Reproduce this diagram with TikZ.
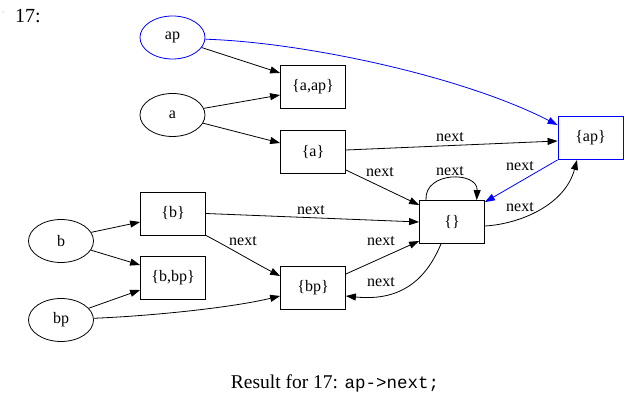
\documentclass[tikz,border=0pt]{standalone}
\usepackage{fontspec}
\setmainfont{Liberation Serif}
\setmonofont{Liberation Mono}
\usetikzlibrary{shapes.geometric,arrows.meta}
\begin{document}
\begin{tikzpicture}[x=1pt,y=-1pt,
  every node/.style={font=\fontsize{16}{19}\selectfont},
  ell/.style={draw,ellipse,line width=0.8pt,minimum width=65pt,minimum height=43pt,inner sep=0pt},
  box/.style={draw,rectangle,line width=0.8pt,minimum width=65pt,minimum height=43pt,inner sep=0pt},
  edge/.style={line width=0.8pt,-{Triangle[length=10pt,width=7pt]}},
  lab/.style={inner sep=0pt,font=\fontsize{16}{19}\selectfont},
  hl/.style={draw=blue}
]
\useasboundingbox (0,0) rectangle (635,403);
\fill[gray!70] (3,12) circle (0.7);
\node[anchor=west,inner sep=0pt,font=\fontsize{20}{24}\selectfont] (title) at (15,16) {17:};

\node[ell,hl] (ap) at (172.5,37.5) {ap};
\node[ell] (a) at (172.5,115) {a};
\node[ell] (b) at (61,241) {b};
\node[ell] (bp) at (61,320) {bp};

\node[box] (aap) at (313,86.5) {\{a,ap\}};
\node[box] (sa) at (313,152) {\{a\}};
\node[box,hl] (sap) at (590.5,138) {\{ap\}};
\node[box] (e) at (452,222) {\{\}};
\node[box] (sb) at (173,213.5) {\{b\}};
\node[box] (sbbp) at (173,278) {\{b,bp\}};
\node[box] (sbp) at (313,288) {\{bp\}};

\draw[edge] (ap.-19) -- ([yshift=13.5]aap.west);
\draw[edge] (a.12) -- ([yshift=-8.5]aap.west);
\draw[edge] (a.-15) -- ([yshift=9]sa.west);
\draw[edge,blue] (ap.-3) .. controls (300,42) and (460,75) .. ([yshift=13]sap.west);

\draw[edge] ([yshift=2]sa.east) -- ([yshift=-3]sap.west);
\node[lab] (l0) at (450,137) {next};
\draw[edge] ([yshift=-18]sa.east) -- ([yshift=17]e.west);
\node[lab] (l7) at (380,172) {next};
\draw[edge] ([xshift=-26]e.north) .. controls (424,171) and (478,171) .. ([xshift=24.7]e.north);
\node[lab] (loopl) at (450,171) {next};
\draw[edge,blue] (sap.south west) -- ([yshift=-2]e.north east);
\node[lab] (l1) at (520,166) {next};
\draw[edge] ([yshift=-4]e.east) .. controls (520,224) and (565,205) .. ([xshift=-13.5]sap.south);
\node[lab] (l2) at (520,207) {next};

\draw[edge] (sb.east) -- (e.west);
\node[lab] (l3) at (311,210) {next};
\draw[edge] (sb.south east) .. controls (228,247) and (255,263) .. ([yshift=12]sbp.west);
\node[lab] (l4) at (243,241) {next};
\draw[edge] ([yshift=14]sbp.east) -- ([yshift=-19]e.west);
\node[lab] (l5) at (381,241) {next};
\draw[edge] ([xshift=-11]e.south) .. controls (428,275) and (405,302) .. ([yshift=-8]sbp.east);
\node[lab] (l6) at (381,282) {next};

\draw[edge] (b.16) -- ([yshift=-8.5]sb.west);
\draw[edge] (b.-17) -- ([yshift=13]sbbp.west);
\draw[edge] (bp.23) -- ([yshift=-12]sbbp.west);
\draw[edge] (bp.3) .. controls (150,316) and (230,308) .. ([yshift=-8]sbp.west);

\node[inner sep=0pt,font=\fontsize{19.5}{22}\selectfont] (cap) at (335,383) {Result for 17: {\ttfamily\fontsize{17.5}{20}\selectfont ap->next;}};
\end{tikzpicture}
\end{document}
